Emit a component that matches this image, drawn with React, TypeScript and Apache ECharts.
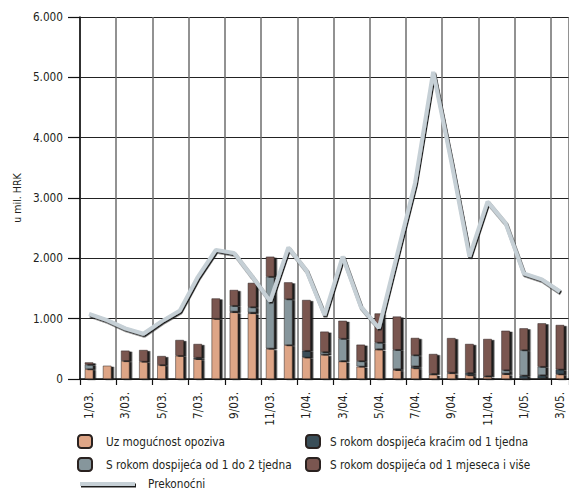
import React, { useEffect, useRef } from "react";
import * as echarts from "echarts";

const categories = [
  "1/03.", "2/03.", "3/03.", "4/03.", "5/03.", "6/03.", "7/03.", "8/03.", "9/03.", "10/03.", "11/03.", "12/03.",
  "1/04.", "2/04.", "3/04.", "4/04.", "5/04.", "6/04.", "7/04.", "8/04.", "9/04.", "10/04.", "11/04.", "12/04.",
  "1/05.", "2/05.", "3/05.",
];

// Uz mogućnost opoziva
const opoziva = [165, 220, 300, 290, 233, 386, 330, 1000, 1105, 1088, 497, 563, 359, 398, 290, 204, 486, 150, 182, 71, 93, 66, 38, 78, 0, 10, 80];
// S rokom dospijeća kraćim od 1 tjedna
const kracim = [0, 0, 0, 0, 0, 0, 25, 0, 15, 15, 10, 0, 110, 10, 10, 5, 10, 15, 30, 15, 15, 35, 10, 15, 60, 55, 80];
// S rokom dospijeća od 1 do 2 tjedna
const od1do2 = [75, 0, 0, 0, 0, 0, 0, 0, 95, 90, 1190, 762, 0, 40, 370, 90, 110, 320, 185, 0, 0, 0, 0, 55, 420, 140, 0];
// S rokom dospijeća od 1 mjeseca i više
const mjesec = [35, 0, 170, 190, 147, 260, 225, 335, 260, 400, 330, 277, 840, 337, 295, 270, 480, 550, 283, 328, 570, 480, 615, 652, 360, 718, 735];
// Prekonoćni
const prekonocni = [1080, 975, 840, 750, 955, 1130, 1690, 2140, 2090, 1700, 1290, 2180, 1800, 1060, 2030, 1200, 845, 2050, 3250, 5090, 3600, 2030, 2940, 2580, 1750, 1650, 1450];

const yTicks = [0, 1000, 2000, 3000, 4000, 5000, 6000];

const FONT = "'Liberation Sans Narrow', 'DejaVu Sans Condensed', 'Roboto', sans-serif";
const TEXT = "#231f20";
const FS = 11.7;

const barDefs = [
  { name: "Uz mogućnost opoziva", data: opoziva, color: "#dea586" },
  { name: "S rokom dospijeća kraćim od 1 tjedna", data: kracim, color: "#3a4e58" },
  { name: "S rokom dospijeća od 1 do 2 tjedna", data: od1do2, color: "#86969c" },
  { name: "S rokom dospijeća od 1 mjeseca i više", data: mjesec, color: "#7a5650" },
];

export default function App() {
  const ref = useRef<HTMLDivElement>(null);
  useEffect(() => {
    if (!ref.current) return;
    const chart = echarts.init(ref.current, undefined, { renderer: "svg" });
    const barSeries = barDefs.map((d) => ({
      name: d.name,
      type: "bar",
      stack: "total",
      barWidth: 8.5,
      data: d.data.map((v) => (v === 0 ? "-" : v)),
      itemStyle: {
        color: d.color,
        borderColor: "#2a2220",
        borderWidth: 0.5,
        shadowColor: "#1e1a1a",
        shadowOffsetX: 2.5,
        shadowOffsetY: 1,
        shadowBlur: 0,
      },
    }));
    const legendText = { fontFamily: FONT, fontSize: FS, color: TEXT, lineHeight: 14 };
    chart.setOption({
      animation: false,
      backgroundColor: "#ffffff",
      grid: { left: 80, top: 17, width: 490, height: 362 },
      xAxis: {
        type: "category",
        data: categories,
        boundaryGap: true,
        axisLine: { show: true, lineStyle: { color: "#111", width: 1.5 } },
        axisTick: { show: true, interval: 1, length: 6, lineStyle: { color: "#111", width: 1.2 } },
        axisLabel: {
          interval: 1,
          rotate: 90,
          margin: 13,
          fontFamily: FONT,
          fontSize: FS,
          color: TEXT,
        },
        splitLine: { show: true, interval: 1, lineStyle: { color: "#6e6e6e", width: 1.5 } },
      },
      yAxis: {
        type: "value",
        min: 0,
        max: 6000,
        interval: 1000,
        name: "u mil. HRK",
        nameLocation: "middle",
        nameGap: 52,
        nameTextStyle: { fontFamily: FONT, fontSize: 10.5, color: TEXT },
        axisLine: { show: true, lineStyle: { color: "#111", width: 1.5 } },
        axisTick: { show: true, length: 12, lineStyle: { color: "#111", width: 1.2 } },
        axisLabel: {
          margin: 17,
          fontFamily: FONT,
          fontSize: FS,
          color: TEXT,
          formatter: (v: number) => (yTicks.includes(v) && v !== 0 ? `${v / 1000}.000` : "0"),
        },
        splitLine: { show: true, lineStyle: { color: "#222", width: 1.2 } },
      },
      legend: [
        {
          left: 77,
          top: 434,
          padding: 0,
          orient: "vertical",
          itemWidth: 14,
          itemHeight: 13,
          itemGap: 8,
          selectedMode: false,
          textStyle: { ...legendText, padding: [0, 0, 0, 9] },
          data: ["Uz mogućnost opoziva", "S rokom dospijeća od 1 do 2 tjedna"],
        },
        {
          left: 305,
          top: 434,
          padding: 0,
          orient: "vertical",
          itemWidth: 14,
          itemHeight: 13,
          itemGap: 8,
          selectedMode: false,
          textStyle: { ...legendText, padding: [0, 0, 0, 5] },
          data: ["S rokom dospijeća kraćim od 1 tjedna", "S rokom dospijeća od 1 mjeseca i više"],
        },
        {
          left: 80,
          top: 477,
          padding: 0,
          itemWidth: 55,
          itemHeight: 4,
          selectedMode: false,
          textStyle: { ...legendText, padding: [0, 0, 0, 8] },
          data: [
            {
              name: "Prekonoćni",
              icon: "rect",
              itemStyle: { color: "#c6d0d6", shadowColor: "#1a1a1a", shadowOffsetX: 1, shadowOffsetY: 1.5, shadowBlur: 0 },
            },
          ],
        },
      ],
      series: [
        ...barSeries,
        {
          name: "Prekonoćni",
          type: "line",
          data: prekonocni,
          symbol: "none",
          z: 5,
          lineStyle: {
            color: "#c6d0d6",
            width: 4,
            shadowColor: "#1a1a1a",
            shadowOffsetX: 1,
            shadowOffsetY: 1.5,
            shadowBlur: 0,
          },
          itemStyle: { color: "#c6d0d6" },
        },
      ],
    });
    return () => chart.dispose();
  }, []);
  return (
    <div
      ref={ref}
      style={{ position: "fixed", left: 0, top: 0, width: 569, height: 490, background: "#fff" }}
    />
  );
}
